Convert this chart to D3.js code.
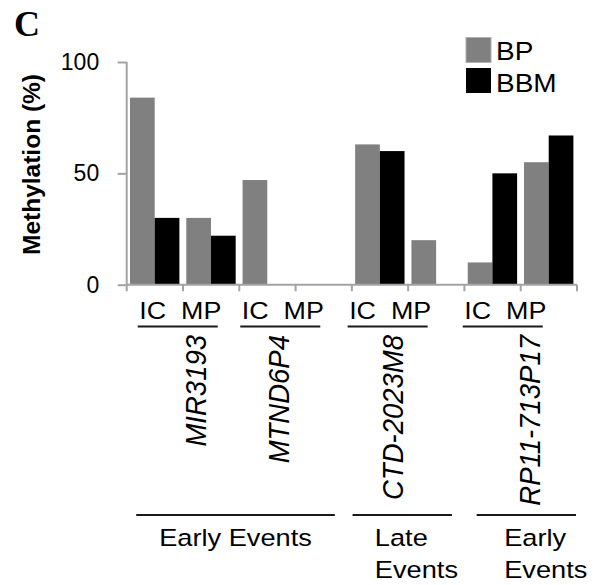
<!DOCTYPE html>
<html>
<head>
<meta charset="utf-8">
<script src="https://cdn.jsdelivr.net/npm/d3@7"></script>
<style>
  html, body { margin: 0; padding: 0; background: #fff; }
  svg { display: block; }
  text { font-family: "Liberation Sans", Arial, Helvetica, sans-serif; fill: #000; }
</style>
</head>
<body>
<svg id="chart" width="602" height="585"></svg>
<script>
// ---- data ----
const genes = ["MIR3193", "MTND6P4", "CTD-2023M8", "RP11-713P17"];
const subGroups = ["IC", "MP"];
const seriesNames = ["BP", "BBM"];
const icBP  = [84, 47, 63, 10];
const icBBM = [30, 0, 60, 50];
const mpBP  = [30, 0, 20, 55];
const mpBBM = [22, 0, 0, 67];
const yTicks = [0, 50, 100];
const eventLabels = [["Early Events"], ["Late", "Events"], ["Early", "Events"]];
const eventGeneIdx = [[0, 1], [2], [3]];

// ---- layout ----
const seriesColors = { BP: "#808080", BBM: "#000000" };
const axisColor = "#a3a3a3";
const textStretch = 1.12;
// label nudges (annotation placement, px)
const icmpNudge = [12.5, 2.5, -2.7, -0.2];
const geneNudge = [23, -7, -5.5, 19];
const eventLineNudge = [[9.5, -17], [0.7, -12.5], [12.2, -1]];
const eventTextNudge = [32.5, 23, 39.8];

const svg = d3.select("#chart");
const defs = svg.append("defs");
defs.append("filter").attr("id", "blur").attr("x", "-5%").attr("y", "-200%")
  .attr("width", "110%").attr("height", "500%")
  .append("feGaussianBlur").attr("stdDeviation", 1.3);

const categories = [];
genes.forEach(g => subGroups.forEach(s => categories.push(g + "|" + s)));

const rows = [];
genes.forEach((g, i) => {
  rows.push({ cat: g + "|IC", BP: icBP[i], BBM: icBBM[i] });
  rows.push({ cat: g + "|MP", BP: mpBP[i], BBM: mpBBM[i] });
});

const x0 = d3.scaleBand().domain(categories).range([126.7, 577]).padding(0);
const x1 = d3.scaleBand().domain(seriesNames).range([3.3, x0.bandwidth() - 3.6]).padding(0);
const y = d3.scaleLinear().domain([0, 100]).range([284.7, 62]);

// bars
const g = svg.append("g");
rows.forEach(r => {
  seriesNames.forEach(s => {
    g.append("rect")
      .attr("x", x0(r.cat) + x1(s))
      .attr("y", y(r[s]))
      .attr("width", x1.bandwidth())
      .attr("height", y(0) - y(r[s]))
      .attr("fill", seriesColors[s]);
  });
});

// y axis
const yAxis = svg.append("g").attr("transform", `translate(${x0.range()[0]},0)`)
  .call(d3.axisLeft(y).tickValues(yTicks).tickSize(9).tickPadding(18.5).tickFormat(d3.format("d")));
yAxis.select(".domain").attr("stroke", axisColor).attr("stroke-width", 2)
  .attr("d", `M0,${y(100)}H0V${y(0)}`);
yAxis.selectAll(".tick line").attr("stroke", axisColor).attr("stroke-width", 2);
yAxis.selectAll(".tick text").attr("font-size", 23).attr("font-family", "Liberation Sans, Arial, sans-serif").attr("fill", "#000").attr("dy", "0.32em");

// x axis baseline and ticks at category boundaries
const xAxisG = svg.append("g");
xAxisG.append("line").attr("x1", x0.range()[0]).attr("x2", x0.range()[1])
  .attr("y1", y(0)).attr("y2", y(0)).attr("stroke", axisColor).attr("stroke-width", 2);
const boundaries = categories.map(c => x0(c)).concat([x0.range()[1]]);
boundaries.forEach(bx => {
  xAxisG.append("line").attr("x1", bx).attr("x2", bx).attr("y1", y(0)).attr("y2", y(0) + 6.5)
    .attr("stroke", axisColor).attr("stroke-width", 2);
});

// y-axis title
svg.append("text")
  .attr("transform", `translate(40,164.5) rotate(-90)`)
  .attr("text-anchor", "middle").attr("font-size", 24.5).attr("font-weight", "bold")
  .text("Methylation (%)");

// panel letter
svg.append("text").attr("x", 14).attr("y", 36)
  .style("font-family", "'Liberation Serif', 'Times New Roman', serif")
  .attr("font-size", 36).attr("font-weight", "bold").text("C");

// legend
seriesNames.forEach((s, i) => {
  svg.append("rect").attr("x", 466).attr("y", 37.5 + i * 30.5).attr("width", 25).attr("height", 25)
    .attr("fill", seriesColors[s]).attr("stroke", s === "BP" ? "#b0b0b0" : "none").attr("stroke-width", 1);
  svg.append("text").attr("transform", `translate(496,${59.5 + i * 32.5}) scale(${textStretch},1)`)
    .attr("font-size", 25).text(s);
});

// helper for underline with shadow
function rule(x1p, x2p, yy) {
  svg.append("line").attr("x1", x1p).attr("x2", x2p).attr("y1", yy + 2.5).attr("y2", yy + 2.5)
    .attr("stroke", "#9a9a9a").attr("stroke-width", 2.5).attr("filter", "url(#blur)");
  svg.append("line").attr("x1", x1p).attr("x2", x2p).attr("y1", yy).attr("y2", yy)
    .attr("stroke", "#1a1a1a").attr("stroke-width", 2.2);
}

// IC / MP labels with underlines, gene names
genes.forEach((gn, i) => {
  const xs = x0(gn + "|IC") + icmpNudge[i];
  svg.append("text").attr("transform", `translate(${xs},319) scale(${textStretch},1)`)
    .attr("font-size", 24).style("white-space", "pre").attr("xml:space", "preserve").text("IC  MP");
  rule(xs - 1.5, xs + 78.5, 326.5);
  const gc = x0(gn + "|MP") + geneNudge[i];
  svg.append("text").attr("transform", `translate(${gc},335) scale(1.07,1) rotate(-90)`)
    .attr("text-anchor", "end").attr("font-size", 27.5).attr("font-style", "italic").text(gn);
});

// event lines & labels
eventGeneIdx.forEach((idxs, k) => {
  const first = genes[idxs[0]], last = genes[idxs[idxs.length - 1]];
  const xa = x0(first + "|IC"), xb = x0(last + "|MP") + x0.bandwidth();
  rule(xa + eventLineNudge[k][0], xb + eventLineNudge[k][1], 515);
  eventLabels[k].forEach((line, li) => {
    svg.append("text").attr("transform", `translate(${xa + eventTextNudge[k]},${545.7 + li * 32}) scale(${textStretch},1)`)
      .attr("font-size", 24.3).text(line);
  });
});
</script>
</body>
</html>
